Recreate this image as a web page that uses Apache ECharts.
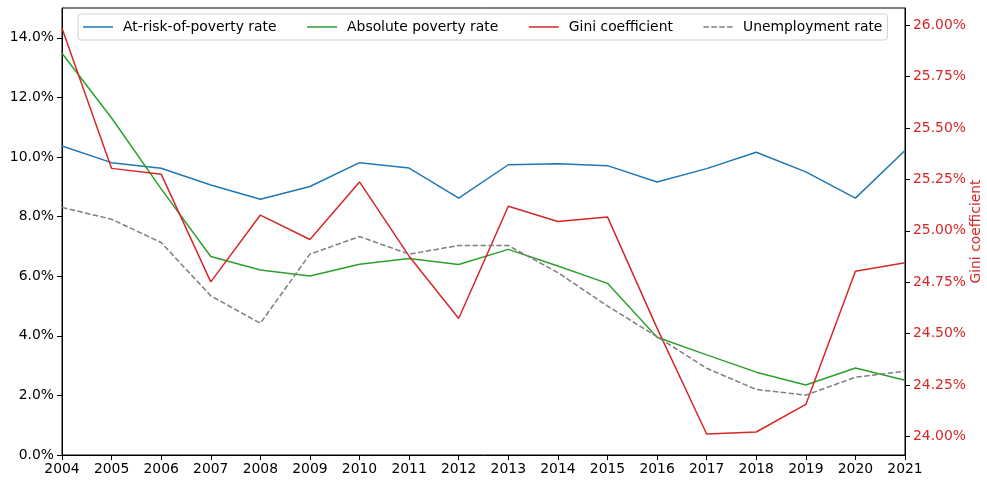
<!DOCTYPE html>
<html>
<head>
<meta charset="utf-8">
<script src="https://cdn.jsdelivr.net/npm/echarts@6/dist/echarts.min.js"></script>
<style>
  html, body { margin: 0; padding: 0; background: #fff; }
  #chart { width: 987px; height: 480px; }
</style>
</head>
<body>
<div id="chart"></div>
<script>
// years on the x axis
const years = ["2004", "2005", "2006", "2007", "2008", "2009", "2010", "2011", "2012",
  "2013", "2014", "2015", "2016", "2017", "2018", "2019", "2020", "2021"];
// left axis (%)
const atRiskRate = [10.37, 9.81, 9.62, 9.06, 8.58, 9.01, 9.81, 9.63, 8.62,
  9.74, 9.77, 9.71, 9.16, 9.61, 10.16, 9.50, 8.62, 10.22];
const absolutePoverty = [13.48, 11.31, 8.93, 6.66, 6.21, 6.01, 6.40, 6.59, 6.39,
  6.90, 6.34, 5.76, 3.95, 3.36, 2.78, 2.35, 2.92, 2.51];
const unemployment = [8.31, 7.91, 7.13, 5.34, 4.42, 6.74, 7.33, 6.74, 7.03,
  7.03, 6.12, 5.00, 3.97, 2.91, 2.20, 2.01, 2.61, 2.81];
// right axis (%)
const gini = [25.985, 25.304, 25.276, 24.752, 25.077, 24.958, 25.238, 24.877, 24.574,
  25.120, 25.046, 25.068, 24.527, 24.012, 24.022, 24.156, 24.804, 24.845];
// tick labels
const leftTicks = [0, 2, 4, 6, 8, 10, 12, 14];
const rightTicks = [24, 24.25, 24.5, 24.75, 25, 25.25, 25.5, 25.75, 26];

const FONT = "DejaVu Sans";
// legend icons: a plain line and a dashed line (no marker)
const solidIcon = "path://M0,0h30v1.5h-30z";
const dashIcon = "path://M0,0h5.5v1.5h-5.5zM7.9,0h5.5v1.5h-5.5zM15.8,0h5.5v1.5h-5.5zM23.7,0h5.5v1.5h-5.5z";

const chart = echarts.init(document.getElementById("chart"));

const option = {
  animation: false,
  backgroundColor: "#fff",
  textStyle: { fontFamily: FONT },
  grid: {
    left: 62, right: 82, top: 8, bottom: 25,
    containLabel: false, outerBoundsMode: "none",
    show: true, borderColor: "#000", borderWidth: 1, backgroundColor: "transparent"
  },
  legend: {
    left: 78, top: 14,
    padding: [6, 5, 6, 5],
    itemWidth: 30, itemHeight: 1.5, itemGap: 30.5,
    backgroundColor: "#fff",
    borderColor: "#d0d0d0", borderWidth: 1, borderRadius: 3,
    textStyle: { fontFamily: FONT, fontSize: 13.9, color: "#000", padding: [0, 0, 0, 5], lineHeight: 14 },
    data: [
      { name: "At-risk-of-poverty rate", icon: solidIcon },
      { name: "Absolute poverty rate", icon: solidIcon },
      { name: "Gini coefficient", icon: solidIcon },
      { name: "Unemployment rate", icon: dashIcon }
    ]
  },
  xAxis: {
    type: "category",
    data: years,
    boundaryGap: false,
    axisLine: { lineStyle: { color: "#000", width: 1 } },
    axisTick: { show: true, length: 5, inside: false, alignWithLabel: true, lineStyle: { color: "#000" } },
    axisLabel: { color: "#000", fontFamily: FONT, fontSize: 13.9, margin: 7, interval: 0 },
    splitLine: { show: false }
  },
  yAxis: [
    {
      type: "value",
      min: 0, max: 15,
      axisLine: { show: true, lineStyle: { color: "#000" } },
      axisTick: { show: true, length: 5, lineStyle: { color: "#000" }, customValues: leftTicks },
      axisLabel: {
        color: "#000", fontFamily: FONT, fontSize: 13.9, margin: 8,
        customValues: leftTicks,
        formatter: (v) => v.toFixed(1) + "%"
      },
      splitLine: { show: false }
    },
    {
      type: "value",
      position: "right",
      min: 23.910, max: 26.084,
      name: "Gini coefficient",
      nameLocation: "middle",
      nameRotate: 90,
      nameGap: 64,
      nameMoveOverlap: false,
      nameTextStyle: { color: "#d62728", fontFamily: FONT, fontSize: 13.9 },
      axisLine: { show: true, lineStyle: { color: "#000" } },
      axisTick: { show: true, length: 5, lineStyle: { color: "#000" }, customValues: rightTicks },
      axisLabel: {
        color: "#d62728", fontFamily: FONT, fontSize: 13.9, margin: 8,
        customValues: rightTicks,
        formatter: (v) => v.toFixed(2) + "%"
      },
      splitLine: { show: false }
    }
  ],
  series: [
    {
      name: "At-risk-of-poverty rate", type: "line", yAxisIndex: 0,
      data: atRiskRate, symbol: "none",
      lineStyle: { color: "#1f77b4", width: 1.5 }, itemStyle: { color: "#1f77b4" }
    },
    {
      name: "Absolute poverty rate", type: "line", yAxisIndex: 0,
      data: absolutePoverty, symbol: "none",
      lineStyle: { color: "#2ca02c", width: 1.5 }, itemStyle: { color: "#2ca02c" }
    },
    {
      name: "Gini coefficient", type: "line", yAxisIndex: 1,
      data: gini, symbol: "none",
      lineStyle: { color: "#d62728", width: 1.5 }, itemStyle: { color: "#d62728" }
    },
    {
      name: "Unemployment rate", type: "line", yAxisIndex: 0,
      data: unemployment, symbol: "none",
      lineStyle: { color: "#7f7f7f", width: 1.5, type: [5.5, 2.4] }, itemStyle: { color: "#7f7f7f" }
    }
  ]
};

chart.setOption(option);
</script>
</body>
</html>
